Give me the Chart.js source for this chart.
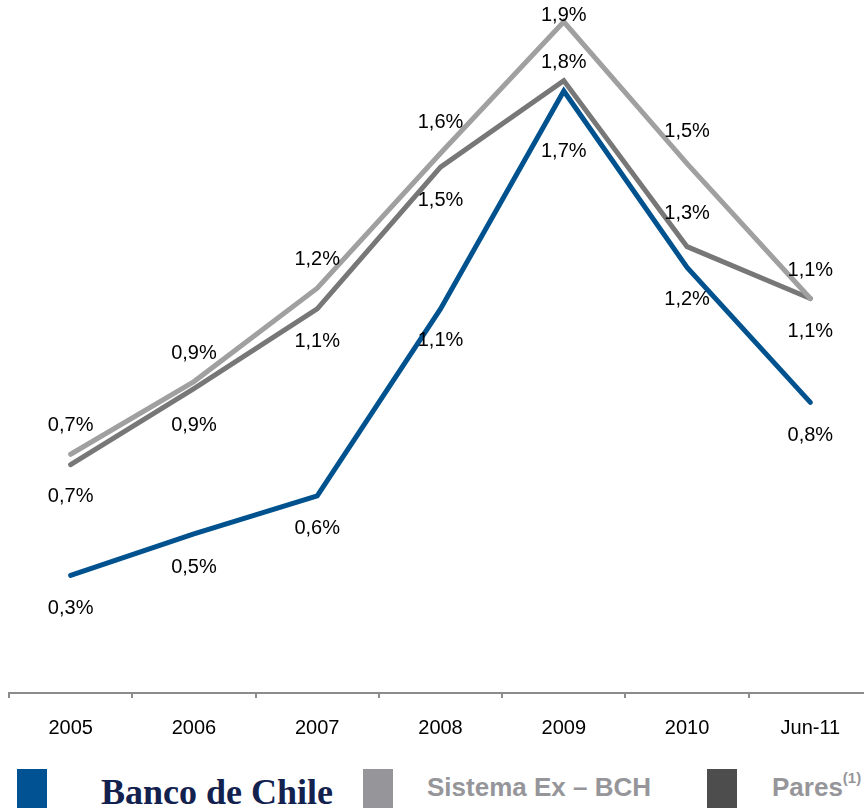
<!DOCTYPE html>
<html>
<head>
<meta charset="utf-8">
<script src="https://cdn.jsdelivr.net/npm/chart.js@4"></script>
<style>
  html, body { margin: 0; padding: 0; background: #fff; overflow: hidden; width: 864px; height: 808px; }
  #wrap { position: relative; width: 864px; height: 808px; overflow: hidden; }
  #chart { position: absolute; left: 0; top: 0; }
  .sq { position: absolute; top: 769px; width: 30px; height: 40px; }
  .lg { position: absolute; top: 774px; font-family: "Liberation Sans", Arial, sans-serif; font-weight: bold;
        font-size: 26px; line-height: 26px; color: #96969a; white-space: nowrap; }
  .lg sup { font-size: 15px; line-height: 0; position: relative; top: -3px; }
  #logo { position: absolute; left: 101px; top: 774px; font-family: "Liberation Serif", "DejaVu Serif", serif;
          font-weight: bold; font-size: 36px; line-height: 36px; color: #13214f; white-space: nowrap; }
</style>
</head>
<body>
<div id="wrap">
  <canvas id="chart" width="872" height="745"></canvas>
  <div class="sq" style="left:17px; background:#005293;"></div>
  <div id="logo">Banco de Chile</div>
  <div class="sq" style="left:363px; background:#96969a;"></div>
  <div class="lg" style="left:427px;">Sistema Ex – BCH</div>
  <div class="sq" style="left:707px; background:#4d4d4d;"></div>
  <div class="lg" style="left:772px;">Pares<sup>(1)</sup></div>
</div>
<script>
// categories and series (% values)
var years = ['2005', '2006', '2007', '2008', '2009', '2010', 'Jun-11'];
var bancoChile = [0.34, 0.46, 0.57, 1.11, 1.74, 1.23, 0.84];
var sistemaExBch = [0.69, 0.90, 1.17, 1.56, 1.94, 1.53, 1.14];
var pares = [0.66, 0.88, 1.11, 1.52, 1.77, 1.29, 1.14];

// where each value label sits relative to its point (px, negative = above)
var bancoLabelOffset = [33, 34, 33, 32, 61, 32, 33];
var sistemaLabelOffset = [-29, -28, -29, -31, -8, -32, -28];
var paresLabelOffset = [32, 37, 33, 33, -18, -33, 33];

function fmtPct(v){
  return (Math.round(v * 10) / 10).toFixed(1).replace('.', ',') + '%';
}

var valueLabels = {
  id: 'valueLabels',
  afterDatasetsDraw: function(chart){
    var ctx = chart.ctx;
    ctx.save();
    ctx.font = '20px "Liberation Sans", Arial, sans-serif';
    ctx.fillStyle = '#000';
    ctx.textAlign = 'center';
    ctx.textBaseline = 'middle';
    chart.data.datasets.forEach(function(ds, di){
      var meta = chart.getDatasetMeta(di);
      meta.data.forEach(function(pt, i){
        var y = pt.y + ds.labelOffset[i];
        if (y < 15) y = 15;
        ctx.fillText(fmtPct(ds.data[i]), pt.x, y);
      });
    });
    ctx.restore();
  }
};

var lineStyle = {
  borderWidth: 5,
  pointRadius: 0,
  pointHoverRadius: 0,
  tension: 0,
  borderJoinStyle: 'miter',
  borderCapStyle: 'round',
  clip: false
};

var datasets = [
  Object.assign({ label: 'Banco de Chile', data: bancoChile, borderColor: '#00528f', labelOffset: bancoLabelOffset }, lineStyle),
  Object.assign({ label: 'Sistema Ex – BCH', data: sistemaExBch, borderColor: '#a0a0a0', labelOffset: sistemaLabelOffset }, lineStyle),
  Object.assign({ label: 'Pares', data: pares, borderColor: '#777777', labelOffset: paresLabelOffset }, lineStyle)
];

var chart = new Chart(document.getElementById('chart'), {
  type: 'line',
  data: { labels: years, datasets: datasets },
  options: {
    responsive: false,
    animation: false,
    events: [],
    layout: { padding: { left: 9, right: 0, top: 1, bottom: 0 } },
    plugins: {
      legend: { display: false },
      tooltip: { enabled: false }
    },
    scales: {
      x: {
        type: 'category',
        offset: true,
        grid: { offset: true, drawOnChartArea: false, drawTicks: true, tickLength: 5, color: '#8c8c8c', lineWidth: 2 },
        border: { display: true, color: '#8c8c8c', width: 2 },
        ticks: {
          color: '#000',
          padding: 18,
          maxRotation: 0,
          autoSkip: false,
          font: { family: '"Liberation Sans", Arial, sans-serif', size: 20 }
        },
        afterFit: function(scale){ scale.height = 52; }
      },
      y: {
        display: false,
        min: 0,
        max: 2.0
      }
    }
  },
  plugins: [valueLabels]
});
</script>
</body>
</html>
